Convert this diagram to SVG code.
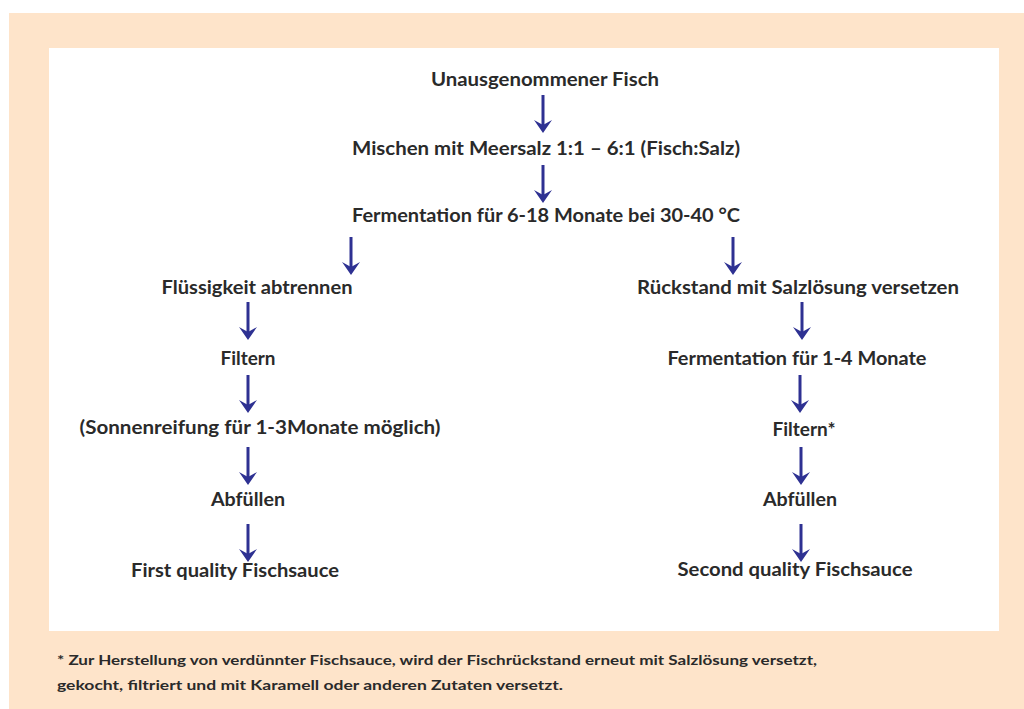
<svg xmlns="http://www.w3.org/2000/svg" width="1024" height="709" viewBox="0 0 1024 709">
<style>
.t{font-family:Lato,"Noto Sans","DejaVu Sans",sans-serif;font-weight:700;font-size:18px;fill:#2a2a2a;text-anchor:middle}
.f{font-family:Lato,"Noto Sans","DejaVu Sans",sans-serif;font-weight:700;font-size:13px;fill:#2a2a2a}
.a{stroke:#2e3192;stroke-width:3;fill:none}
.h{fill:#2e3192}
</style>
<defs>
<g id="arr"><line class="a" x1="0" y1="0" x2="0" y2="32"/><polygon class="h" points="0,38 -9,25 0,30 9,25"/></g>
</defs>
<rect x="9" y="13" width="1015" height="696" fill="#fee4ca"/>
<rect x="49" y="48" width="950" height="583" fill="#ffffff"/>
<g id="connectors">
<use href="#arr" x="543" y="95"/>
<use href="#arr" x="543" y="165"/>
<use href="#arr" x="351" y="237"/>
<use href="#arr" x="733" y="237"/>
<use href="#arr" x="248" y="302"/>
<use href="#arr" x="802" y="302"/>
<use href="#arr" x="248" y="375"/>
<use href="#arr" x="800" y="375"/>
<use href="#arr" x="248" y="447"/>
<use href="#arr" x="801" y="447"/>
<use href="#arr" x="248" y="524"/>
<use href="#arr" x="801" y="524"/>
</g>
<g id="n1"><text class="t" x="545" y="86" textLength="228" lengthAdjust="spacingAndGlyphs">Unausgenommener Fisch</text></g>
<g id="n2"><text class="t" x="546" y="155" textLength="388" lengthAdjust="spacingAndGlyphs">Mischen mit Meersalz 1:1 – 6:1 (Fisch:Salz)</text></g>
<g id="n3"><text class="t" x="546" y="222" textLength="388" lengthAdjust="spacingAndGlyphs">Fermentation für 6-18 Monate bei 30-40 °C</text></g>
<g id="n4"><text class="t" x="257" y="294" textLength="191" lengthAdjust="spacingAndGlyphs">Flüssigkeit abtrennen</text></g>
<g id="n5"><text class="t" x="798" y="294" textLength="322" lengthAdjust="spacingAndGlyphs">Rückstand mit Salzlösung versetzen</text></g>
<g id="n6"><text class="t" x="248" y="365" textLength="55" lengthAdjust="spacingAndGlyphs">Filtern</text></g>
<g id="n7"><text class="t" x="797" y="365" textLength="259" lengthAdjust="spacingAndGlyphs">Fermentation für 1-4 Monate</text></g>
<g id="n8"><text class="t" x="260" y="434" textLength="361" lengthAdjust="spacingAndGlyphs">(Sonnenreifung für 1-3Monate möglich)</text></g>
<g id="n9"><text class="t" x="804" y="436" textLength="63" lengthAdjust="spacingAndGlyphs">Filtern*</text></g>
<g id="n10"><text class="t" x="248" y="506" textLength="74" lengthAdjust="spacingAndGlyphs">Abfüllen</text></g>
<g id="n11"><text class="t" x="800" y="506" textLength="74" lengthAdjust="spacingAndGlyphs">Abfüllen</text></g>
<g id="n12"><text class="t" x="235" y="577" textLength="208" lengthAdjust="spacingAndGlyphs">First quality Fischsauce</text></g>
<g id="n13"><text class="t" x="795" y="576" textLength="235" lengthAdjust="spacingAndGlyphs">Second quality Fischsauce</text></g>
<g id="footnote">
<text class="f" x="57" y="665" textLength="760" lengthAdjust="spacingAndGlyphs">* Zur Herstellung von verdünnter Fischsauce, wird der Fischrückstand erneut mit Salzlösung versetzt,</text>
<text class="f" x="57" y="690" textLength="506" lengthAdjust="spacingAndGlyphs">gekocht, filtriert und mit Karamell oder anderen Zutaten versetzt.</text>
</g>
</svg>
